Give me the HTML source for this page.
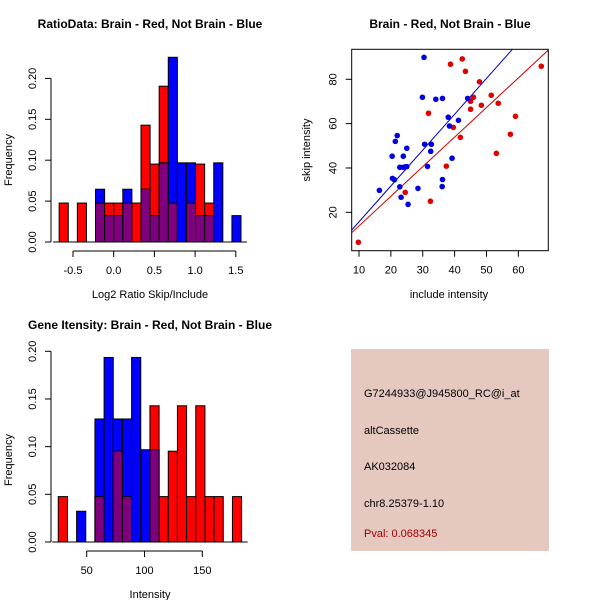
<!DOCTYPE html>
<html><head><meta charset="utf-8"><style>
html,body{margin:0;padding:0;background:#fff;}
svg text{font-family:"Liberation Sans",sans-serif;font-size:11px;fill:#000;}
.t{font-weight:bold;font-size:12px;}
</style></head><body>
<svg id="s" width="600" height="600" viewBox="0 0 600 600" xmlns="http://www.w3.org/2000/svg">
<rect x="351" y="349" width="198" height="202" fill="#e5c9c1"/>
<text x="364" y="397">G7244933@J945800_RC@i_at</text>
<text x="364" y="434">altCassette</text>
<text x="364" y="470">AK032084</text>
<text x="364" y="507">chr8.25379-1.10</text>
<text x="364" y="537" style="fill:#a00000">Pval: 0.068345</text>
</svg>
<script>
// ---- Histogram 1: ratio ----
const ratioBinCount = 20;
const ratioRed  = [1,0,1,0,1,1,1,1,1,3,2,4,1,0,1,2,1,0,0,0];
const ratioBlue = [0,0,0,0,2,1,1,2,0,2,1,3,7,3,3,1,1,3,0,1];
const ratioYTicks = [0,0.05,0.10,0.15,0.20];
const ratioYLabels = ["0.00","0.05","0.10","0.15","0.20"];
const ratioXTicks = [-0.5,0,0.5,1,1.5];
const ratioXLabels = ["-0.5","0.0","0.5","1.0","1.5"];
const ratioBreakStart = -0.67, ratioBreakWidth = 0.1117;
// ---- Histogram 2: intensity ----
const intRed  = [1,0,0,0,1,0,2,1,0,0,3,1,2,3,1,3,1,1,0,1];
const intBlue = [0,0,1,0,4,6,4,4,6,3,3,0,0,0,0,0,0,0,0,0];
const intYTicks = [0,0.05,0.10,0.15,0.20];
const intYLabels = ["0.00","0.05","0.10","0.15","0.20"];
const intXTicks = [50,100,150];
const intXLabels = ["50","100","150"];
const intBreakStart = 25.4, intBreakWidth = 7.93;
// ---- Scatter ----
const redX = [42.4,38.7,43.4,67.2,47.8,51.5,45.9,45.0,53.7,48.4,45.0,31.8,59.1,39.6,41.8,57.5,53.1,37.4,24.5,32.4,9.8];
const redY = [89.2,86.8,83.6,85.9,78.9,72.8,71.9,70.1,69.2,68.3,66.5,64.7,63.3,58.3,53.8,55.2,46.6,40.8,29.0,25.0,6.5];
const blueX = [30.4,29.9,34.1,36.2,44.1,38.0,41.2,38.4,22.0,21.4,30.6,32.7,25.0,32.5,20.4,23.9,39.2,22.8,23.9,25.0,31.5,20.5,21.1,36.2,36.1,22.8,28.5,16.4,23.2,25.4,24.5];
const blueY = [89.9,71.9,71.0,71.4,71.4,62.9,61.5,58.9,54.6,52.0,50.7,50.7,48.9,47.5,45.3,45.3,44.4,40.3,40.3,40.6,40.7,35.3,34.7,34.8,31.6,31.5,30.8,29.9,26.8,23.6,40.5];
const fitSlope = [1.335,1.617];      // red, blue
const fitIntercept = [0.52,-0.45];
const scXTicks = [10,20,30,40,50,60];
const scYTicks = [20,40,60,80];

const NS="http://www.w3.org/2000/svg", svg=document.getElementById('s');
function mk(tag,attrs,parent){const e=document.createElementNS(NS,tag);for(const k in attrs)e.setAttribute(k,attrs[k]);(parent||svg).appendChild(e);return e;}
function txt(x,y,s,cls,rot,anchor){const e=mk('text',{x:x,y:y,'text-anchor':anchor||'middle'});if(cls)e.setAttribute('class',cls);if(rot)e.setAttribute('transform','rotate(-90 '+x+' '+y+')');e.textContent=s;return e;}

function hist(o){
  const g=mk('g',{});
  
  
  const nR=o.red.reduce((a,b)=>a+b,0), nB=o.blue.reduce((a,b)=>a+b,0);
  const xs=v=>o.x0px+(v-o.x0)*o.xk, ys=v=>o.y0px-v*o.yk;
  for(let i=0;i<o.red.length;i++){
    const l=xs(o.bs+i*o.bw), r=xs(o.bs+(i+1)*o.bw);
    const fr=o.red[i]/nR, fb=o.blue[i]/nB;
    if(fr>0){const e=mk('rect',{x:l,y:ys(fr),width:r-l,height:ys(0)-ys(fr),fill:'#ff0000',stroke:'#000','stroke-width':1},g);
      }
    if(fb>0){const e=mk('rect',{x:l,y:ys(fb),width:r-l,height:ys(0)-ys(fb),fill:'#0000ff',stroke:'#000','stroke-width':1},g);
      }
    const m=Math.min(fr,fb);
    if(m>0){const e=mk('rect',{x:l,y:ys(m),width:r-l,height:ys(0)-ys(m),fill:'#7f007f',stroke:'#000','stroke-width':1},g);
      }
  }
  mk('line',{x1:xs(o.bs)-6,x2:xs(o.bs+o.red.length*o.bw)+6,y1:ys(0),y2:ys(0),stroke:'#000'},g);
  const ya=mk('g',{},g);
  mk('line',{x1:o.yax,x2:o.yax,y1:ys(o.yt[0]),y2:ys(o.yt[o.yt.length-1]),stroke:'#000'},ya);
  o.yt.forEach((v,i)=>{mk('line',{x1:o.yax,x2:o.yax-6,y1:ys(v),y2:ys(v),stroke:'#000'},ya);
    const t=txt(o.yax-15,ys(v),o.yl[i],null,true,'middle');ya.appendChild(t);});
  const xa=mk('g',{},g);
  mk('line',{x1:xs(o.xt[0]),x2:xs(o.xt[o.xt.length-1]),y1:o.xay,y2:o.xay,stroke:'#000'},xa);
  o.xt.forEach((v,i)=>{mk('line',{x1:xs(v),x2:xs(v),y1:o.xay,y2:o.xay+6,stroke:'#000'},xa);
    xa.appendChild(txt(xs(v),o.xay+23,o.xl[i]));});
  const t1=txt(o.tx,o.ty,o.title,'t');
  const t2=txt(o.xax,o.xly,o.xlab);
  const t3=txt(12,o.ylc,'Frequency',null,true);
}
hist({name:'ratio-histogram',red:ratioRed,blue:ratioBlue,bs:ratioBreakStart,bw:ratioBreakWidth,
  x0:0,x0px:113.7,xk:81.4,y0px:242,yk:818,yax:51,xay:251,yt:ratioYTicks,yl:ratioYLabels,xt:ratioXTicks,xl:ratioXLabels,
  title:'RatioData: Brain - Red, Not Brain - Blue',tx:150,ty:28,xlab:'Log2 Ratio Skip/Include',xax:150,xly:298,ylc:160});
hist({name:'intensity-histogram',red:intRed,blue:intBlue,bs:intBreakStart,bw:intBreakWidth,
  x0:50,x0px:86.7,xk:1.156,y0px:542,yk:953.5,yax:51,xay:551,yt:intYTicks,yl:intYLabels,xt:intXTicks,xl:intXLabels,
  title:'Gene Itensity: Brain - Red, Not Brain - Blue',tx:150,ty:329,xlab:'Intensity',xax:150,xly:598,ylc:460});

(function(){
  const g=mk('g',{});
  
  
  const L=351.7,R=548.3,T=49.3,B=250.7;
  const xs=v=>359+(v-10)*3.187, ys=v=>79.3-(v-80)*2.217;
  mk('defs',{},g).innerHTML='<clipPath id="cp"><rect x="'+L+'" y="'+T+'" width="'+(R-L)+'" height="'+(B-T)+'"/></clipPath>';
  const cols=['#cc0000','#0000cc'];
  for(let k=0;k<2;k++){
    const xa=(L-359)/3.187+10, xb=(R-359)/3.187+10;
    const e=mk('line',{x1:xs(xa),y1:ys(fitIntercept[k]+fitSlope[k]*xa),x2:xs(xb),y2:ys(fitIntercept[k]+fitSlope[k]*xb),stroke:cols[k],'stroke-width':1,'clip-path':'url(#cp)'},g);
    
    
  }
  redX.forEach((x,i)=>{const e=mk('circle',{cx:xs(x),cy:ys(redY[i]),r:2.8,fill:'#e00000'},g);
    });
  blueX.forEach((x,i)=>{const e=mk('circle',{cx:xs(x),cy:ys(blueY[i]),r:2.8,fill:'#0000e0'},g);
    });
  mk('rect',{x:L,y:T,width:R-L,height:B-T,fill:'none',stroke:'#000'},g);
  scXTicks.forEach(v=>{mk('line',{x1:xs(v),x2:xs(v),y1:B,y2:B+6,stroke:'#000'},g);g.appendChild(txt(xs(v),B+23,String(v)));});
  scYTicks.forEach(v=>{mk('line',{x1:L,x2:L-6,y1:ys(v),y2:ys(v),stroke:'#000'},g);g.appendChild(txt(L-15,ys(v),String(v),null,true));});
  const t1=txt(450,28,'Brain - Red, Not Brain - Blue','t');
  const t2=txt(449,298,'include intensity');
  const t3=txt(310,150,'skip intensity',null,true);
})();
</script>
</body></html>
